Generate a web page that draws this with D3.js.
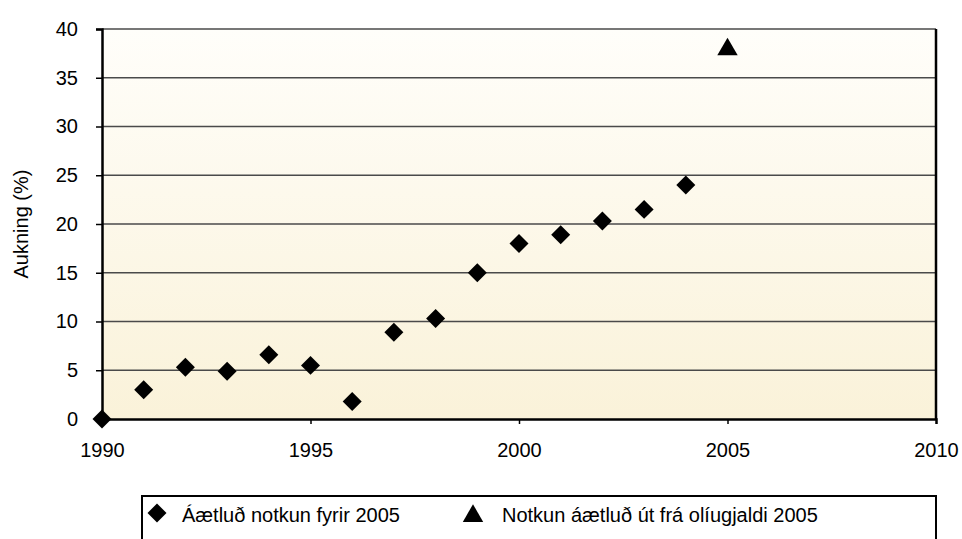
<!DOCTYPE html>
<html>
<head>
<meta charset="utf-8">
<script src="https://cdn.jsdelivr.net/npm/d3@7"></script>
<style>
  body { margin: 0; background: #fff; }
  svg { display: block; font-family: "Liberation Sans", Arial, Helvetica, sans-serif; }
</style>
</head>
<body>
<svg id="chart"></svg>
<script>
const width = 962;
const height = 539;

const years = [1990, 1991, 1992, 1993, 1994, 1995, 1996, 1997, 1998, 1999, 2000, 2001, 2002, 2003, 2004];
const estimated = [0, 3.0, 5.3, 4.9, 6.6, 5.5, 1.8, 8.9, 10.3, 15.0, 18.0, 18.9, 20.3, 21.5, 24.0];
const oilYears = [2005];
const oilValues = [37.9];
const xTicks = [1990, 1995, 2000, 2005, 2010];
const yTicks = [0, 5, 10, 15, 20, 25, 30, 35, 40];
const seriesNames = ["Áætluð notkun fyrir 2005", "Notkun áætluð út frá olíugjaldi 2005"];

const margin = { top: 29, right: 26, bottom: 120, left: 102 };
const fontSize = 20;

const svg = d3.select('#chart')
  .attr('width', width)
  .attr('height', height);

const x = d3.scaleLinear().domain([1990, 2010]).range([margin.left, width - margin.right]);
const y = d3.scaleLinear().domain([0, 40]).range([height - margin.bottom, margin.top]);

// background gradient
const defs = svg.append('defs');
const grad = defs.append('linearGradient')
  .attr('id', 'bg')
  .attr('x1', 0).attr('y1', 0).attr('x2', 0).attr('y2', 1);
grad.append('stop').attr('offset', '0%').attr('stop-color', '#fffefa');
grad.append('stop').attr('offset', '100%').attr('stop-color', '#faf2d9');

svg.append('rect')
  .attr('x', x(1990)).attr('y', y(40))
  .attr('width', x(2010) - x(1990))
  .attr('height', y(0) - y(40))
  .attr('fill', 'url(#bg)');

// gridlines
svg.append('g')
  .selectAll('line')
  .data(yTicks.filter(d => d > 0))
  .enter().append('line')
    .attr('x1', x(1990)).attr('x2', x(2010))
    .attr('y1', d => y(d)).attr('y2', d => y(d))
    .attr('stroke', '#4a4a4a')
    .attr('stroke-width', 1.5);

// axes
const yAxis = svg.append('g')
  .attr('transform', `translate(${x(1990)},0)`)
  .call(d3.axisLeft(y).tickValues(yTicks).tickSize(6).tickPadding(18));
const xAxis = svg.append('g')
  .attr('transform', `translate(0,${y(0)})`)
  .call(d3.axisBottom(x).tickValues(xTicks).tickFormat(d3.format('d')).tickSize(5).tickPadding(19));

[yAxis, xAxis].forEach(g => {
  g.attr('font-size', null).attr('font-family', null);
  g.select('.domain').attr('stroke', '#000').attr('stroke-width', 2.5);
  g.selectAll('.tick line').attr('stroke', '#000').attr('stroke-width', 1.5);
  g.selectAll('text').style('font-size', fontSize + 'px').attr('fill', '#000');
});
yAxis.selectAll('.tick').filter(d => d === 0).select('line').remove();
xAxis.selectAll('.tick').filter(d => d === 1990 || d === 2010).select('line').remove();

// right frame
svg.append('line')
  .attr('x1', x(2010)).attr('x2', x(2010))
  .attr('y1', y(40)).attr('y2', y(0))
  .attr('stroke', '#000').attr('stroke-width', 2.5);

// y axis title
svg.append('text')
  .attr('transform', `translate(28,${(y(0) + y(40)) / 2}) rotate(-90)`)
  .attr('text-anchor', 'middle')
  .style('font-size', fontSize + 'px')
  .text('Aukning (%)');

const diamond = d3.symbol().type(d3.symbolDiamond2).size(230);
const triangle = d3.symbol().type(d3.symbolTriangle).size(180);

svg.append('g')
  .selectAll('path')
  .data(years.map((yr, i) => ({ yr, v: estimated[i] })))
  .enter().append('path')
    .attr('d', diamond)
    .attr('transform', d => `translate(${x(d.yr)},${y(d.v)})`)
    .attr('fill', '#000');

svg.append('g')
  .selectAll('path')
  .data(oilYears.map((yr, i) => ({ yr, v: oilValues[i] })))
  .enter().append('path')
    .attr('d', triangle)
    .attr('transform', d => `translate(${x(d.yr)},${y(d.v)})`)
    .attr('fill', '#000');

// legend
const legend = svg.append('g');
legend.append('rect')
  .attr('x', 142).attr('y', 496)
  .attr('width', 794).attr('height', 60)
  .attr('fill', '#fff')
  .attr('stroke', '#000')
  .attr('stroke-width', 2);

legend.append('path')
  .attr('d', diamond)
  .attr('transform', 'translate(157,513)');
legend.append('text')
  .attr('x', 182).attr('y', 522)
  .style('font-size', fontSize + 'px')
  .text(seriesNames[0]);

legend.append('path')
  .attr('d', triangle)
  .attr('transform', 'translate(473,516)');
legend.append('text')
  .attr('x', 502).attr('y', 522)
  .style('font-size', fontSize + 'px')
  .text(seriesNames[1]);
</script>
</body>
</html>
